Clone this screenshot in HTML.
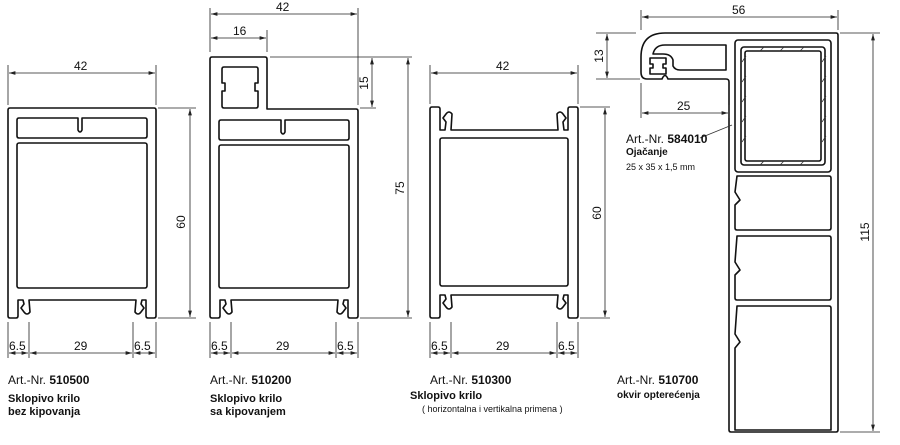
<!DOCTYPE html>
<html><head><meta charset="utf-8"><style>
body{margin:0;background:#fff}
svg{display:block}
text{font-family:"Liberation Sans",sans-serif;fill:#111}
.d{font-size:12px}
.a{font-size:12px}
.b{font-size:11px;font-weight:bold}
</style></head><body>
<svg width="900" height="445" viewBox="0 0 900 445" xmlns="http://www.w3.org/2000/svg">
<defs>
<marker id="ar" viewBox="0 0 10 6" refX="10" refY="3" markerWidth="8" markerHeight="5" orient="auto-start-reverse"><path d="M0,0L10,3L0,6z" fill="#222"/></marker>
</defs>
<g fill="none" stroke="#111" stroke-width="1.6" stroke-linejoin="round">
<!-- Profile 1 -->
<path d="M10,108 H154 Q156,108 156,110 V316 Q156,318 154,318 H148 Q146,318 146,316 V300 H142 L141,304 L144,308 L141,312 Q138,316 135,312 L136,300 H29 L30,312 Q27,316 24,312 L21,308 L24,304 L23,300 H18 V316 Q18,318 16,318 H10 Q8,318 8,316 V110 Q8,108 10,108Z"/>
<path d="M19,118 H78 V130 Q80,134 82,130 V118 H145 Q147,118 147,120 V136 Q147,138 145,138 H19 Q17,138 17,136 V120 Q17,118 19,118Z"/>
<rect x="17" y="143" width="130" height="145" rx="2"/>
<!-- Profile 2 -->
<path d="M212,57 H265 Q267,57 267,59 V109 H356 Q358,109 358,111 V316 Q358,318 356,318 H350 Q348,318 348,316 V300 H344 L343,304 L346,308 L343,312 Q340,316 337,312 L338,300 H231 L232,312 Q229,316 226,312 L223,308 L226,304 L225,300 H220 V316 Q220,318 218,318 H212 Q210,318 210,316 V59 Q210,57 212,57Z"/>
<path d="M224,67 H256 Q258,67 258,69 V83 H255 V91 H258 V106 Q258,108 256,108 H224 Q222,108 222,106 V91 H225 V83 H222 V69 Q222,67 224,67Z"/>
<path d="M221,120 H281 V132 Q283,136 285,132 V120 H347 Q349,120 349,122 V138 Q349,140 347,140 H221 Q219,140 219,138 V122 Q219,120 221,120Z"/>
<rect x="219" y="145" width="130" height="143" rx="2"/>
<!-- Profile 3 -->
<path d="M432,107 H438 Q440,107 440,109 V130 H445 L446,122 L443,118 L446,114 Q449,110 452,114 L451,130 H558 L557,114 Q560,110 563,114 L566,118 L563,122 L564,130 H568 V109 Q568,107 570,107 H576 Q578,107 578,109 V316 Q578,318 576,318 H570 Q568,318 568,316 V295 H564 L563,299 L566,303 L563,307 Q560,311 557,307 L558,295 H451 L452,307 Q449,311 446,307 L443,303 L446,299 L445,295 H440 V316 Q440,318 438,318 H432 Q430,318 430,316 V109 Q430,107 432,107Z"/>
<rect x="440" y="138" width="128" height="148" rx="2"/>
<!-- Profile 4 -->
<path d="M665,33 H836 Q838,33 838,35 V430 Q838,432 836,432 H731 Q729,432 729,430 V82 Q729,79 726,79 H668 Q665,72 662,79 H647 Q641,79 641,72 V57 Q641,33 665,33Z"/>
<path d="M665,45 Q655,45 653,54 H663 Q671,54 673,60 V66 Q675,70 680,70 H726 V45Z"/>
<path d="M650,58 H666 V64 H663 V68 H666 V74 H650 V68 H653 V64 H650Z"/>
<rect x="735" y="40" width="96" height="132" rx="3"/>
<rect x="741" y="47" width="84" height="118" rx="3"/>
<rect x="745" y="51" width="76" height="110" rx="2"/>
<path d="M737,176 H829 Q831,176 831,178 V228 Q831,230 829,230 H737 Q735,230 735,228 V205 L740,200 L735,192 Z"/>
<path d="M737,236 H829 Q831,236 831,238 V298 Q831,300 829,300 H737 Q735,300 735,298 V275 L740,270 L735,262 Z"/>
<path d="M737,306 H829 Q831,306 831,308 V430 H735 V348 L740,342 L735,334 Z"/>
</g>
<g stroke="#333" stroke-width="0.8" fill="none">
<path d="M742,62 L746,56 M742,82 L746,76 M742,102 L746,96 M742,122 L746,116 M742,142 L746,136 M822,62 L826,56 M822,82 L826,76 M822,102 L826,96 M822,122 L826,116 M822,142 L826,136 M760,51 L764,47 M780,51 L784,47 M800,51 L804,47 M760,165 L764,161 M780,165 L784,161 M800,165 L804,161"/>
<path d="M700,138 L732,125"/>
</g>
<!-- dimensions -->
<g stroke="#222" stroke-width="0.8" fill="none">
<path d="M8,65V105 M156,65V105 M158,108H196 M158,318H196 M8,322V358 M29,322V358 M133,322V358 M156,322V358"/>
<path d="M210,8V52 M358,8V105 M267,30V52 M270,57H412 M360,108H376 M360,318H412"/>
<path d="M210,322V358 M231,322V358 M336,322V358 M358,322V358"/>
<path d="M430,65V104 M578,65V104 M580,107H610 M580,318H610 M430,322V358 M451,322V358 M557,322V358 M578,322V358"/>
<path d="M641,10V30 M838,10V30 M596,33H636 M596,79H640 M840,33H880 M840,432H880 M641,83V118 M729,105V118"/>
</g>
<g stroke="#222" stroke-width="0.8" marker-start="url(#ar)" marker-end="url(#ar)">
<line x1="9" y1="73" x2="155" y2="73"/><line x1="190" y1="109" x2="190" y2="317"/>
<line x1="9" y1="353" x2="28" y2="353"/><line x1="30" y1="353" x2="132" y2="353"/><line x1="134" y1="353" x2="155" y2="353"/>
<line x1="211" y1="14" x2="357" y2="14"/><line x1="211" y1="38" x2="266" y2="38"/>
<line x1="372" y1="58" x2="372" y2="107"/><line x1="408" y1="58" x2="408" y2="317"/>
<line x1="211" y1="353" x2="230" y2="353"/><line x1="232" y1="353" x2="335" y2="353"/><line x1="337" y1="353" x2="357" y2="353"/>
<line x1="431" y1="73" x2="577" y2="73"/><line x1="605" y1="108" x2="605" y2="317"/>
<line x1="431" y1="353" x2="450" y2="353"/><line x1="452" y1="353" x2="556" y2="353"/><line x1="558" y1="353" x2="577" y2="353"/>
<line x1="642" y1="17" x2="837" y2="17"/><line x1="607" y1="34" x2="607" y2="78"/>
<line x1="873" y1="34" x2="873" y2="431"/><line x1="642" y1="113" x2="728" y2="113"/>
</g>
<g class="d">
<text x="74" y="70">42</text><text x="185" y="222" transform="rotate(-90 185 222)" text-anchor="middle">60</text>
<text x="9" y="350">6.5</text><text x="74" y="350">29</text><text x="134" y="350">6.5</text>
<text x="276" y="11">42</text><text x="233" y="35">16</text>
<text x="368" y="83" transform="rotate(-90 368 83)" text-anchor="middle">15</text>
<text x="404" y="188" transform="rotate(-90 404 188)" text-anchor="middle">75</text>
<text x="211" y="350">6.5</text><text x="276" y="350">29</text><text x="337" y="350">6.5</text>
<text x="496" y="70">42</text><text x="601" y="213" transform="rotate(-90 601 213)" text-anchor="middle">60</text>
<text x="431" y="350">6.5</text><text x="496" y="350">29</text><text x="558" y="350">6.5</text>
<text x="732" y="14">56</text><text x="603" y="56" transform="rotate(-90 603 56)" text-anchor="middle">13</text>
<text x="677" y="110">25</text><text x="869" y="232" transform="rotate(-90 869 232)" text-anchor="middle">115</text>
</g>
<text class="a" x="8" y="384">Art.-Nr. <tspan font-weight="bold">510500</tspan></text>
<text class="b" x="8" y="402">Sklopivo krilo</text><text class="b" x="8" y="415">bez kipovanja</text>
<text class="a" x="210" y="384">Art.-Nr. <tspan font-weight="bold">510200</tspan></text>
<text class="b" x="210" y="402">Sklopivo krilo</text><text class="b" x="210" y="415">sa kipovanjem</text>
<text class="a" x="430" y="384">Art.-Nr. <tspan font-weight="bold">510300</tspan></text>
<text class="b" x="410" y="399">Sklopivo krilo</text><text x="422" y="412" style="font-size:9px">( horizontalna i vertikalna primena )</text>
<text class="a" x="617" y="384">Art.-Nr. <tspan font-weight="bold">510700</tspan></text>
<text class="b" x="617" y="398" style="font-size:10px">okvir opterećenja</text>
<text class="a" x="626" y="143">Art.-Nr. <tspan font-weight="bold">584010</tspan></text>
<text class="b" x="626" y="155" style="font-size:10px">Ojačanje</text>
<text x="626" y="170" style="font-size:9px">25 x 35 x 1,5 mm</text>
</svg>
</body></html>
